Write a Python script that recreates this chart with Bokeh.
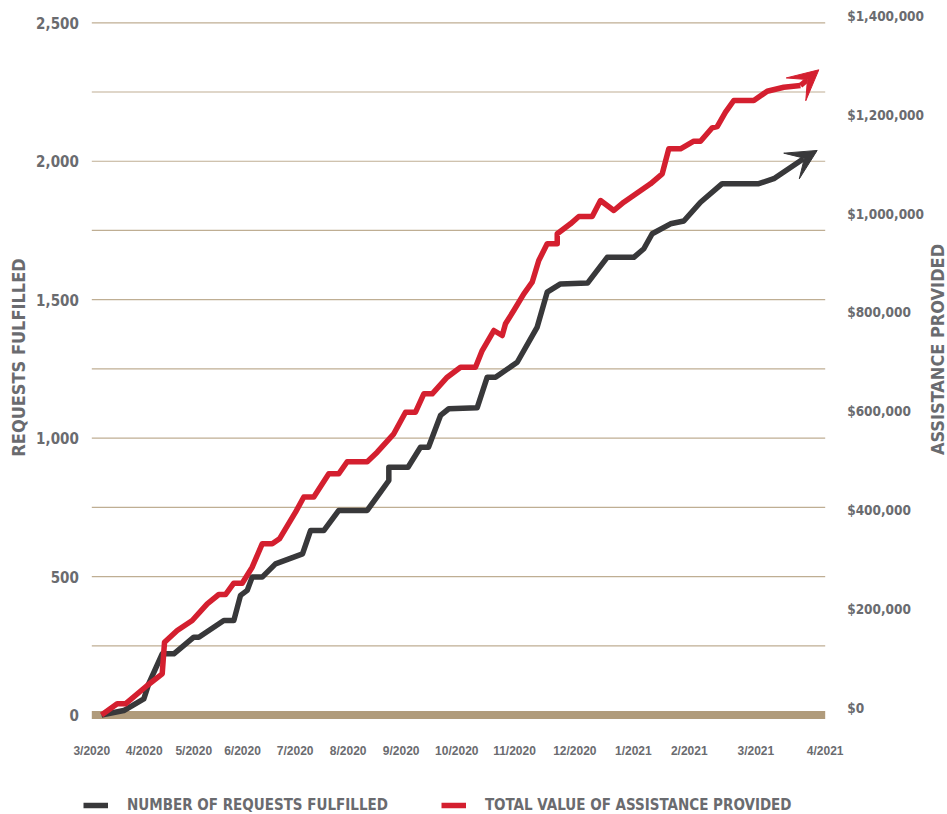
from math import pi
from bokeh.plotting import figure
from bokeh.models import (Range1d, LinearAxis, FixedTicker, NumeralTickFormatter,
                          Arrow, VeeHead, Legend, LegendItem, Label)
from bokeh.embed import file_html
from bokeh.resources import INLINE

# ---- data (x = position on the timeline, in "month" units as laid out on the chart) ----
month_ticks = [0.0, 0.929, 1.808, 2.671, 3.605, 4.545, 5.484, 6.470, 7.493, 8.562,
               9.599, 10.591, 11.770, 13.0]
month_labels = ["3/2020", "4/2020", "5/2020", "6/2020", "7/2020", "8/2020", "9/2020",
                "10/2020", "11/2020", "12/2020", "1/2021", "2/2021", "3/2021", "4/2021"]

req_x = [0.172, 0.567, 0.922, 1.010, 1.248, 1.454, 1.808, 1.897, 2.340, 2.517, 2.636, 2.755,
         2.843, 3.020, 3.256, 3.735, 3.877, 4.112, 4.378, 4.882, 5.117, 5.265, 5.265, 5.605,
         5.826, 5.968, 6.181, 6.328, 6.832, 7.009, 7.156, 7.541, 7.895, 8.072, 8.308, 8.787,
         9.136, 9.607, 9.785, 9.933, 10.258, 10.494, 10.790, 11.174, 11.823, 12.089, 12.615]
req_y = [0, 16, 58, 113, 221, 221, 281, 281, 341, 341, 432, 450, 498, 498, 546, 582, 666, 666,
         739, 739, 805, 847, 895, 895, 967, 967, 1082, 1106, 1110, 1220, 1220, 1274, 1401, 1527,
         1557, 1560, 1653, 1653, 1684, 1738, 1774, 1784, 1852, 1919, 1919, 1937, 2009]
req_tip = (12.858, 2039)

usd_x = [0.172, 0.450, 0.597, 0.982, 1.248, 1.289, 1.514, 1.780, 2.046, 2.251, 2.370, 2.517,
         2.666, 2.843, 3.020, 3.198, 3.327, 3.611, 3.758, 3.935, 4.201, 4.378, 4.527, 4.882,
         5.059, 5.353, 5.561, 5.738, 5.885, 6.034, 6.300, 6.536, 6.801, 6.920, 7.126, 7.275,
         7.333, 7.480, 7.658, 7.806, 7.923, 8.072, 8.250, 8.250, 8.485, 8.633, 8.870, 9.017,
         9.253, 9.430, 9.903, 10.111, 10.228, 10.435, 10.671, 10.790, 10.997, 11.086, 11.233,
         11.380, 11.735, 11.972, 12.266, 12.562]
usd_y = [0, 22650, 22650, 59660, 83330, 147240, 170900, 191130, 224900, 243710, 243710, 266570,
         266570, 298930, 346250, 346250, 356370, 410160, 440900, 440900, 487830, 487830, 512300,
         512300, 531510, 568730, 612410, 612410, 649630, 649630, 683200, 703430, 703430, 737200,
         777650, 767540, 791200, 818100, 851880, 875340, 919230, 952990, 952990, 973220, 993440,
         1008210, 1008210, 1040580, 1020350, 1037140, 1074350, 1094580, 1145140, 1145140,
         1160510, 1160510, 1187610, 1190240, 1219160, 1242830, 1242830, 1261640, 1269730, 1273160]
usd_tip = (12.887, 1304900)

left_ticks = [0, 500, 1000, 1500, 2000, 2500]
grid_ticks = [250, 500, 750, 1000, 1250, 1500, 1750, 2000, 2250, 2500]
right_ticks = [0, 200000, 400000, 600000, 800000, 1000000, 1200000, 1400000]

series_names = ["NUMBER OF REQUESTS FULFILLED", "TOTAL VALUE OF ASSISTANCE PROVIDED"]
left_title = "REQUESTS FULFILLED"
right_title = "ASSISTANCE PROVIDED"

# ---- styles ----
GRAY = "#6a6b6f"
RED = "#d41f2f"
BLACK = "#38383a"
TAN = "#b09b7b"
GRID = "#bfae93"
FONT = "DejaVu Sans Condensed, Roboto, sans-serif"

# ranges chosen so the plotting area sits where the original draws it
X0, X1 = -1.6184, 15.1679
Y0, Y1 = -359.36, 2580.54
usd_per_req = 1400000 / 2500
label_shift = 14158

p = figure(width=947, height=814, output_backend="svg", toolbar_location=None,
           x_range=Range1d(X0, X1), y_range=Range1d(Y0, Y1), min_border=0,
           min_border_left=0, min_border_right=0, min_border_top=0, min_border_bottom=0)
p.extra_y_ranges = {
    "usd": Range1d(Y0 * usd_per_req, Y1 * usd_per_req),
    "usd_axis": Range1d(Y0 * usd_per_req - label_shift, Y1 * usd_per_req - label_shift),
}
p.outline_line_color = None
p.background_fill_color = "white"
p.border_fill_color = "white"
p.xgrid.visible = False
p.ygrid.visible = False

# gridlines across the time span, and the thick base line at zero
p.segment(x0=month_ticks[0], x1=month_ticks[-1], y0=grid_ticks, y1=grid_ticks,
          line_color=GRID, line_width=1.2)
p.segment(x0=month_ticks[0], x1=month_ticks[-1], y0=left_ticks[0], y1=left_ticks[0],
          line_color=TAN, line_width=8)

# left axis
ya = p.yaxis[0]
ya.fixed_location = month_ticks[0]
ya.ticker = FixedTicker(ticks=left_ticks)
ya.formatter = NumeralTickFormatter(format="0,0")
ya.axis_line_color = None
ya.major_tick_line_color = None
ya.minor_tick_line_color = None
ya.major_tick_out = 0
ya.major_label_standoff = 13
ya.major_label_text_font = FONT
ya.major_label_text_font_style = "bold"
ya.major_label_text_font_size = "15px"
ya.major_label_text_color = GRAY

# x axis
xa = p.xaxis[0]
xa.fixed_location = left_ticks[0]
xa.ticker = FixedTicker(ticks=month_ticks)
xa.major_label_overrides = {t: l for t, l in zip(month_ticks, month_labels)}
xa.axis_line_color = None
xa.major_tick_line_color = None
xa.minor_tick_line_color = None
xa.major_tick_out = 0
xa.major_label_standoff = 29
xa.major_label_text_font = "Liberation Sans"
xa.major_label_text_font_style = "bold"
xa.major_label_text_font_size = "12px"
xa.major_label_text_color = GRAY

# right axis
ra = LinearAxis(y_range_name="usd_axis", ticker=FixedTicker(ticks=right_ticks),
                formatter=NumeralTickFormatter(format="$0,0"), fixed_location=month_ticks[-1])
ra.axis_line_color = None
ra.major_tick_line_color = None
ra.minor_tick_line_color = None
ra.major_tick_out = 0
ra.major_label_standoff = 22
ra.major_label_text_font = FONT
ra.major_label_text_font_style = "bold"
ra.major_label_text_font_size = "13.5px"
ra.major_label_text_color = GRAY
p.add_layout(ra, "right")

# axis titles (both read bottom-to-top)
p.add_layout(Label(x=18, y=457, x_units="screen", y_units="screen", text=left_title,
                   angle=pi / 2, text_align="center", text_baseline="middle", text_font=FONT,
                   text_font_style="bold", text_font_size="18px", text_color=GRAY))
p.add_layout(Label(x=937, y=465, x_units="screen", y_units="screen", text=right_title,
                   angle=pi / 2, text_align="center", text_baseline="middle", text_font=FONT,
                   text_font_style="bold", text_font_size="18px", text_color=GRAY))

# lines
r_req = p.line(req_x, req_y, line_color=BLACK, line_width=5.5, line_join="round")
r_usd = p.line(usd_x, usd_y, line_color=RED, line_width=5.5, line_join="round", y_range_name="usd")

p.add_layout(Arrow(end=VeeHead(size=30, fill_color=BLACK, line_color=BLACK, line_width=1),
                   x_start=req_x[-1], y_start=req_y[-1], x_end=req_tip[0], y_end=req_tip[1],
                   line_color=BLACK, line_width=5.5))
p.add_layout(Arrow(end=VeeHead(size=30, fill_color=RED, line_color=RED, line_width=1),
                   x_start=usd_x[-1], y_start=usd_y[-1], x_end=usd_tip[0], y_end=usd_tip[1],
                   line_color=RED, line_width=5.5, y_range_name="usd"))

# legend
legend = Legend(items=[LegendItem(label=series_names[0], renderers=[r_req]),
                       LegendItem(label=series_names[1], renderers=[r_usd])],
                location=(83, 0), orientation="horizontal", padding=0, margin=0,
                spacing=53, glyph_width=25, glyph_height=18, label_height=18, label_standoff=19,
                border_line_alpha=0, background_fill_alpha=0,
                label_text_font=FONT, label_text_font_style="bold", label_text_font_size="15px",
                label_text_color=GRAY)
p.add_layout(legend)

open("out.html", "w").write(file_html(p, INLINE))
